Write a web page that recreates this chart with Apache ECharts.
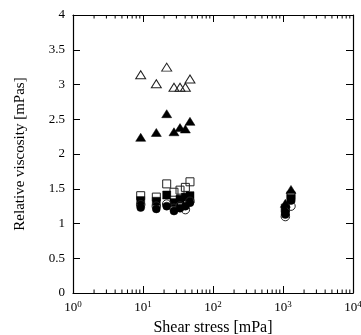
<!DOCTYPE html>
<html><head><meta charset="utf-8">
<script src="https://cdn.jsdelivr.net/npm/echarts@6/dist/echarts.min.js"></script>
<style>html,body{margin:0;padding:0;background:#fff}#c{width:361px;height:335px}</style>
</head><body><div id="c"></div>
<script>
// Shear stress positions [mPa]
const xLow = [9.27, 15.5, 21.8, 27.7, 33.8, 40.3, 46.9];
const xHigh = [1080, 1300];
// Relative viscosity values
const openTriangle = [3.14, 3.01, 3.25, 2.96, 2.96, 2.96, 3.08];
const filledTriangleLow = [2.24, 2.31, 2.58, 2.32, 2.38, 2.36, 2.47];
const filledTriangleHigh = [1.29, 1.49];
const openSquareLow = [1.40, 1.38, 1.57, 1.45, 1.48, 1.52, 1.60];
const openSquareHigh = [1.22, 1.40];
const filledSquareLow = [1.33, 1.32, 1.41, 1.30, 1.35, 1.38, 1.40];
const filledSquareHigh = [1.18, 1.36];
const openCircleLow = [1.27, 1.25, 1.28, 1.22, 1.25, 1.20, 1.32];
const openCircleHigh = [1.10, 1.25];
const filledCircleLow = [1.23, 1.21, 1.25, 1.18, 1.22, 1.25, 1.30];
const filledCircleHigh = [1.13, 1.33];
const minorTickValues = [2,3,4,5,6,7,8,9,20,30,40,50,60,70,80,90,200,300,400,500,600,700,800,900,2000,3000,4000,5000,6000,7000,8000,9000];
const xAxisName = 'Shear stress [mPa]';
const yAxisName = 'Relative viscosity [mPas]';

function pairs(xs, ys){ return xs.map((x,i)=>[x, ys[i]]); }
const FONT = 'Liberation Serif';
const open = {color:'rgba(0,0,0,0)', borderColor:'#222', borderWidth:1, opacity:1};
const filled = {color:'#000', borderColor:'#000', borderWidth:0.5, opacity:1};

const chart = echarts.init(document.getElementById('c'), null, {renderer:'canvas'});
const axisCommon = {
  axisLine:{show:true, onZero:false, lineStyle:{color:'#000', width:1.2}},
  axisTick:{show:true, inside:true, length:7, lineStyle:{color:'#000', width:1}},
  splitLine:{show:false}
};
chart.setOption({
  animation:false,
  backgroundColor:'#fff',
  grid:{left:73, right:8, top:15, bottom:42, containLabel:false, outerBoundsMode:'none'},
  xAxis:[
    Object.assign({type:'log', logBase:10, min:1, max:10000, position:'bottom',
      name:xAxisName, nameLocation:'middle', nameGap:23,
      nameTextStyle:{fontFamily:FONT, fontSize:16, color:'#000'},
      axisLabel:{margin:7, color:'#000', fontFamily:FONT, fontSize:13,
        formatter:function(v){ const e=Math.round(Math.log10(v)); return '{b|10}{s|'+e+'}'; },
        rich:{b:{fontFamily:FONT, fontSize:13, color:'#000'}, s:{fontFamily:FONT, fontSize:9, color:'#000', padding:[0,0,7,0]}}}
    }, axisCommon),
    Object.assign({type:'log', logBase:10, min:1, max:10000, position:'top', axisLabel:{show:false}}, axisCommon)
  ],
  yAxis:[
    Object.assign({type:'value', min:0, max:4, interval:0.5, position:'left',
      name:yAxisName, nameLocation:'middle', nameGap:45,
      nameTextStyle:{fontFamily:FONT, fontSize:15, color:'#000'},
      axisLabel:{margin:8, color:'#000', fontFamily:FONT, fontSize:13}
    }, axisCommon),
    Object.assign({type:'value', min:0, max:4, interval:0.5, position:'right', axisLabel:{show:false}}, axisCommon)
  ],
  series:[
    {type:'custom', silent:true, clip:false, z:1,
      data: minorTickValues.map(v=>[v, 0]),
      renderItem:function(params, api){
        const x = api.value(0);
        const pb = api.coord([x, 0]);
        const pt = api.coord([x, 4]);
        const st = {stroke:'#000', lineWidth:1};
        return {type:'group', children:[
          {type:'line', shape:{x1:pb[0], y1:pb[1], x2:pb[0], y2:pb[1]-3.5}, style:st},
          {type:'line', shape:{x1:pt[0], y1:pt[1], x2:pt[0], y2:pt[1]+3.5}, style:st}
        ]};
      }},
    {type:'scatter', name:'open triangle', symbol:'triangle', symbolSize:[10,8], itemStyle:open,
      data:pairs(xLow, openTriangle)},
    {type:'scatter', name:'open square', symbol:'rect', symbolSize:8, itemStyle:open,
      data:pairs(xLow, openSquareLow).concat(pairs(xHigh, openSquareHigh))},
    {type:'scatter', name:'filled square', symbol:'rect', symbolSize:8, itemStyle:filled,
      data:pairs(xLow, filledSquareLow).concat(pairs(xHigh, filledSquareHigh))},
    {type:'scatter', name:'open circle', symbol:'circle', symbolSize:8.5, itemStyle:open,
      data:pairs(xLow, openCircleLow).concat(pairs(xHigh, openCircleHigh))},
    {type:'scatter', name:'filled circle', symbol:'circle', symbolSize:8, itemStyle:filled,
      data:pairs(xLow, filledCircleLow).concat(pairs(xHigh, filledCircleHigh))},
    {type:'scatter', name:'filled triangle', symbol:'triangle', symbolSize:[10,8], itemStyle:filled,
      data:pairs(xLow, filledTriangleLow).concat(pairs(xHigh, filledTriangleHigh))}
  ]
});
</script></body></html>
